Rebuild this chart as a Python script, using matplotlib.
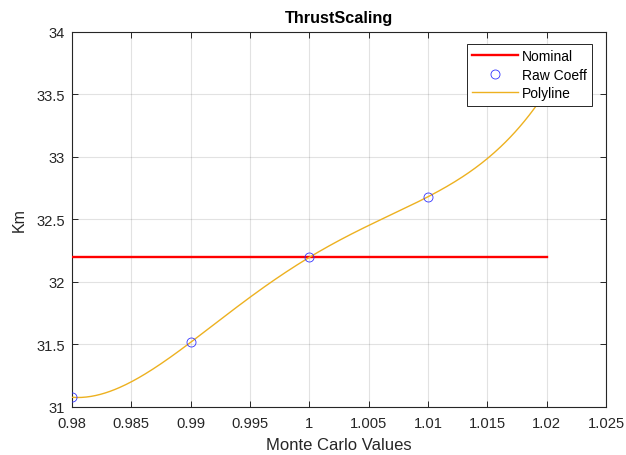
import numpy as np
import matplotlib
matplotlib.use("Agg")
import matplotlib.pyplot as plt

# values
raw_x = [0.98, 0.99, 1.00, 1.01, 1.02]
raw_y = [31.075, 31.515, 32.195, 32.68, 33.53]
nominal_x = [0.98, 1.02]
nominal_y = [32.195, 32.195]
fit_degree = 4

x_ticks = [0.98, 0.985, 0.99, 0.995, 1.0, 1.005, 1.01, 1.015, 1.02, 1.025]
x_tick_labels = ["0.98", "0.985", "0.99", "0.995", "1", "1.005", "1.01", "1.015", "1.02", "1.025"]
y_ticks = [31, 31.5, 32, 32.5, 33, 33.5, 34]
y_tick_labels = ["31", "31.5", "32", "32.5", "33", "33.5", "34"]

plt.rcParams['font.family'] = ['Liberation Sans', 'DejaVu Sans']
dark = (0.15, 0.15, 0.15)

fig = plt.figure(figsize=(6.26, 4.56), dpi=100)
ax = fig.add_axes([0.115, 0.106, 0.853, 0.822])

# polynomial fit through the raw coefficients
coeffs = np.polyfit(raw_x, raw_y, fit_degree)
xs = np.linspace(raw_x[0], raw_x[-1], 300)
ys = np.polyval(coeffs, xs)

ax.plot(nominal_x, nominal_y, color=(1, 0, 0), lw=1.7, label='Nominal', zorder=3)
ax.plot(raw_x, raw_y, 'o', mfc='none', mec=(0.2, 0.2, 1), ms=6.5, mew=0.6,
        label='Raw Coeff', zorder=4)
ax.plot(xs, ys, color=(0.929, 0.694, 0.125), lw=1.0, label='Polyline', zorder=3)

ax.set_xlim(0.98, 1.025)
ax.set_ylim(31, 34)
ax.set_xticks(x_ticks)
ax.set_xticklabels(x_tick_labels)
ax.set_yticks(y_ticks)
ax.set_yticklabels(y_tick_labels)

ax.grid(True, color=dark, alpha=0.13, lw=0.8)
ax.set_axisbelow(True)
ax.tick_params(direction='in', top=True, right=True, length=4, width=0.7,
               colors=dark, labelsize=10.6)
ax.tick_params(axis='x', pad=7)
ax.tick_params(axis='y', pad=5)
for s in ax.spines.values():
    s.set_color(dark)
    s.set_linewidth(0.8)

ax.set_title('ThrustScaling', fontsize=11.7, fontweight='bold', color='black', pad=7)
ax.set_xlabel('Monte Carlo Values', fontsize=12, color=dark, labelpad=5)
ax.set_ylabel('Km', fontsize=11.5, color=dark, labelpad=7)

leg = ax.legend(loc='upper right', bbox_to_anchor=(0.974, 0.968), fontsize=10,
                handlelength=3.3, handletextpad=0.3, borderpad=0.38,
                labelspacing=0.33, fancybox=False, framealpha=1,
                edgecolor=dark, borderaxespad=0)
leg.get_frame().set_linewidth(0.7)
leg.set_zorder(10)

fig.savefig('out.png', dpi=100)
